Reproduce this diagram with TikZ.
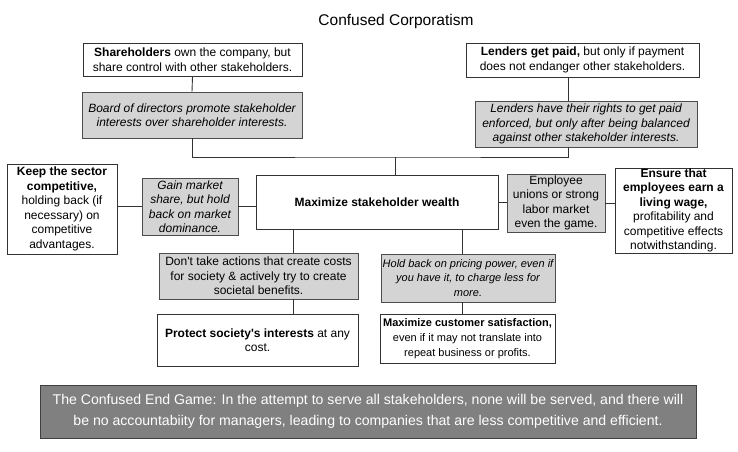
\documentclass[tikz,border=0pt]{standalone}
\usepackage{fontspec}
\setmainfont{Liberation Sans}
\begin{document}
\begin{tikzpicture}[x=1pt,y=-1pt,line width=0.9pt,
  txt/.style={font=\fontsize{12}{14.5}\selectfont, align=center, inner sep=0pt},
  small/.style={font=\fontsize{11}{14.8}\selectfont},
  sz/.style 2 args={minimum width=#1pt, minimum height=#2pt},
  wbox/.style={txt, rectangle, draw=black!80, fill=white},
  gbox/.style={txt, rectangle, draw=black!70, fill=black!17},
  link/.style={draw=black!80, line width=0.9pt}]
  \useasboundingbox (0,0) rectangle (738,451);
  % title
  \node[font=\fontsize{15.5}{18}\selectfont] (title) at (396,21) {Confused Corporatism};
  % owners and lenders on top
  \node[wbox, sz={219}{33}] (share) at (192.5,59.5)
    {\textbf{Shareholders} own the company, but\\share control with other stakeholders.};
  \node[gbox, sz={220}{46}] (board) at (192,115)
    {\itshape Board of directors promote stakeholder\\\itshape interests over shareholder interests.};
  \node[wbox, sz={233}{34}] (lend) at (582.5,60)
    {\textbf{Lenders get paid,} but only if payment\\does not endanger other stakeholders.};
  \node[gbox, sz={222}{46}] (lendbd) at (586,124)
    {\itshape Lenders have their rights to get paid\\\itshape enforced, but only after being balanced\\\itshape against other stakeholder interests.};
  % middle row
  \node[wbox, sz={242}{54}] (max) at (377,202) {\textbf{Maximize stakeholder wealth}};
  \node[wbox, sz={110}{90}] (keep) at (62,209)
    {\textbf{Keep the sector}\\\textbf{competitive,}\\holding back (if\\necessary) on\\competitive\\advantages.};
  \node[gbox, sz={96}{57}] (gain) at (190,206.5)
    {\itshape Gain market\\\itshape share, but hold\\\itshape back on market\\\itshape dominance.};
  \node[gbox, sz={98}{58}] (emp) at (556,203)
    {Employee\\unions or strong\\labor market\\even the game.};
  \node[wbox, sz={117}{85}] (ens) at (673.5,210.5)
    {\textbf{Ensure that}\\\textbf{employees earn a}\\\textbf{living wage,}\\profitability and\\competitive effects\\notwithstanding.};
  % society and customers below
  \node[gbox, sz={199}{46}] (dont) at (258.5,276)
    {Don\textquotesingle t take actions that create costs\\for society \& actively try to create\\societal benefits.};
  \node[wbox, sz={201}{52}] (prot) at (257.5,340)
    {\textbf{Protect society\textquotesingle s interests} at any\\cost.};
  \node[gbox, small, sz={174}{48}] (hold) at (468,278)
    {\itshape Hold back on pricing power, even if\\\itshape you have it, to charge less for\\\itshape more.};
  \node[wbox, small, sz={175}{49}] (cust) at (467.5,338.5)
    {\textbf{Maximize customer satisfaction,}\\even if it may not translate into\\repeat business or profits.};
  % end game
  \node[txt, rectangle, draw=black!75, fill=black!50, text=white, sz={656}{53},
    font=\fontsize{14.1}{20.5}\selectfont] (endgame) at (368,411.5)
    {The Confused End Game: In the attempt to serve all stakeholders, none will be served, and there will\\
     be no accountabiity for managers, leading to companies that are less competitive and efficient.};
  % connectors
  \coordinate (bus) at (395,157);
  \coordinate (lx) at (568,0);
  \coordinate (sx) at (293,0);
  \coordinate (cx) at (462,0);
  \draw[link] (share.south) -- (board.north);
  \draw[link] (lend.south -| lx) -- (lendbd.north -| lx);
  \draw[link] (board.south) |- (bus) -| (lendbd.south -| lx);
  \draw[link] (bus) -- (bus |- max.north);
  \draw[link] (keep.east |- gain.west) -- (gain.west);
  \draw[link] (gain.east) -- (gain.east -| max.west);
  \draw[link] (max.east) -- (max.east -| emp.west);
  \draw[link] (emp.east) -- (emp.east -| ens.west);
  \draw[link] (max.south -| sx) -- (dont.north -| sx);
  \draw[link] (dont.south -| sx) -- (prot.north -| sx);
  \draw[link] (max.south -| cx) -- (hold.north -| cx);
  \draw[link] (hold.south -| cx) -- (cust.north -| cx);
\end{tikzpicture}
\end{document}
